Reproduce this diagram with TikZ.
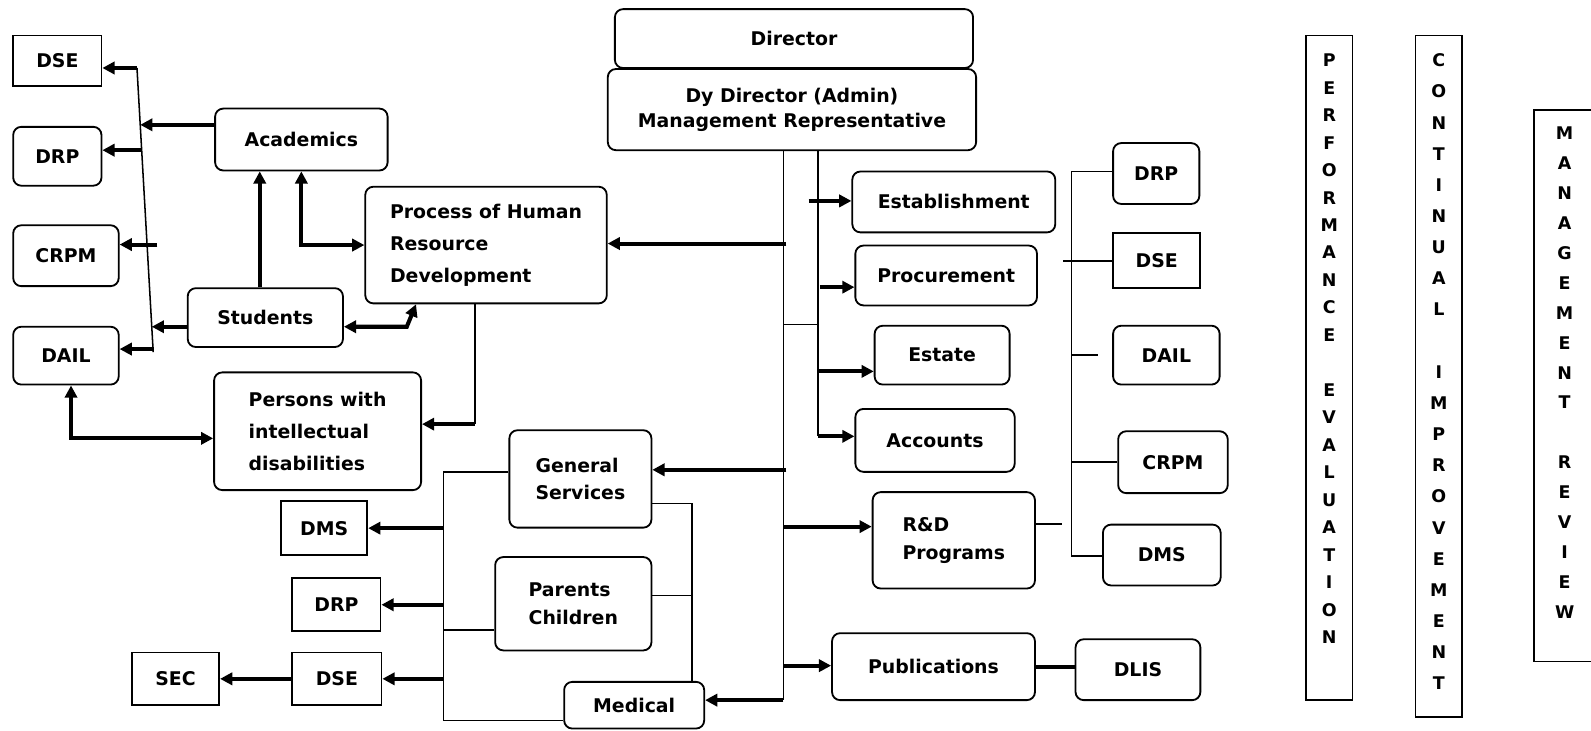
\documentclass[tikz,border=0pt]{standalone}
\usepackage{fontspec}
\setmainfont{DejaVu Sans}
\usetikzlibrary{arrows.meta}
% stacked capitals for the tall side boxes
\newcommand{\vletters}[3]{\parbox[c][#1][t]{14pt}{\centering\fontsize{8.6}{#2}\selectfont\bfseries #3}}
\tikzset{% box and line styles
    boxwh/.style 2 args={minimum width=#1*0.5pt, minimum height=#2*0.5pt},
    rbox/.style={draw, rounded corners=4pt, line width=0.9pt, inner sep=0pt, align=left,
        font=\bfseries\fontsize{9.3}{11.5}\selectfont},
    sbox/.style={rbox, sharp corners},
    vbox/.style={draw, line width=0.9pt, inner sep=0pt},
    thn/.style={line width=0.75pt},
    thk/.style={line width=2pt, >={Triangle[length=6pt,width=6pt]}},
}

\begin{document}
\begin{tikzpicture}[x=0.5pt,y=-0.5pt]
    \useasboundingbox (0,0) rectangle (1568,720);
    \clip (0,0) rectangle (1568,720);

    % Left side
    \node[sbox, boxwh={87}{50}] (dseL) at (56.5,60) {DSE};
    \node[rbox, boxwh={87}{58}] (drpL) at (56.5,154) {DRP};
    \node[rbox, boxwh={104}{60}] (crpmL) at (65,252) {CRPM};
    \node[rbox, boxwh={104}{57}] (dailL) at (65,350.5) {DAIL};
    \node[rbox, boxwh={170}{61}] (acad) at (297,137.5) {Academics};
    \node[rbox, boxwh={153}{58}] (stud) at (261.5,313) {Students};
    \node[rbox, boxwh={238}{115}] (phrd) at (479,241.5) {Process of Human\\[4.25pt]Resource\\[4.25pt]Development};
    \node[rbox, boxwh={204}{116}] (pwid) at (313,425) {Persons with\\[4.25pt]intellectual\\[4.25pt]disabilities};

    % Top
    \node[rbox, boxwh={353}{58}] (dir) at (782.5,38) {Director};
    \node[rbox, boxwh={363}{80}, align=center] (dydir) at (780.5,108) {Dy Director (Admin)\\[1pt]Management Representative};

    % Middle column
    \node[rbox, boxwh={200}{60}] (estb) at (940,199) {Establishment};
    \node[rbox, boxwh={179}{59}] (proc) at (932.5,271.5) {Procurement};
    \node[rbox, boxwh={133}{58}] (estate) at (928.5,350) {Estate};
    \node[rbox, boxwh={157}{62}] (acct) at (921.5,434) {Accounts};
    \node[rbox, boxwh={160}{95}] (rnd) at (940,532.5) {R\&D\\[2.5pt]Programs};
    \node[rbox, boxwh={200}{66}] (pub) at (920,657) {Publications};
    \node[rbox, boxwh={123}{60}] (dlis) at (1121.5,660) {DLIS};

    % Bottom left
    \node[rbox, boxwh={140}{96}] (gs) at (572,472) {General\\[2pt]Services};
    \node[rbox, boxwh={154}{92}] (pc) at (565,595) {Parents\\[2pt]Children};
    \node[rbox, boxwh={138}{46}] (med) at (625,695) {Medical};
    \node[sbox, boxwh={85}{53}] (dmsL) at (319.5,520.5) {DMS};
    \node[sbox, boxwh={87}{52}] (drpB) at (331.5,596) {DRP};
    \node[sbox, boxwh={88}{52}] (dseB) at (332,669) {DSE};
    \node[sbox, boxwh={86}{52}] (sec) at (173,669) {SEC};

    % Right column
    \node[rbox, boxwh={85}{60}] (drpR) at (1139.5,171) {DRP};
    \node[sbox, boxwh={86}{54}] (dseR) at (1140,257) {DSE};
    \node[rbox, boxwh={105}{58}] (dailR) at (1149.5,350) {DAIL};
    \node[rbox, boxwh={108}{61}] (crpmR) at (1156,455.5) {CRPM};
    \node[rbox, boxwh={116}{60}] (dmsR) at (1145,547) {DMS};

    % Tall boxes
    \node[vbox, boxwh={46}{655}] (pe) at (1310,362.5)
        {\vletters{309.5pt}{13.55pt}{P\\E\\R\\F\\O\\R\\M\\A\\N\\C\\E\\[13.55pt]E\\V\\A\\L\\U\\A\\T\\I\\O\\N}};
    \node[vbox, boxwh={46}{672}] (ci) at (1418,371)
        {\vletters{318pt}{15.35pt}{C\\O\\N\\T\\I\\N\\U\\A\\L\\[15.35pt]I\\M\\P\\R\\O\\V\\E\\M\\E\\N\\T}};
    \node[vbox, boxwh={60}{544}] (mr) at (1542,380)
        {\vletters{255pt}{14.75pt}{M\\A\\N\\A\\G\\E\\M\\E\\N\\T\\[14.75pt]R\\E\\V\\I\\E\\W}};

    % Left bus
    \coordinate (lbt) at (135,67);
    \coordinate (lbb) at (151,347);
    \coordinate (lb1) at (138.2,123);
    \coordinate (lb2) at (139.6,148);
    \coordinate (lb3) at (155,241);
    \coordinate (lb4) at (152,344);
    \coordinate (lb5) at (149.6,322);
    \draw[thn] (lbt) -- (lbb);
    \draw[thk,->] (lbt) -- (lbt -| dseL.east);
    \draw[thk,->] (lb2) -- (lb2 -| drpL.east);
    \draw[thk,->] (lb3) -- (lb3 -| crpmL.east);
    \draw[thk,->] (lb4) -- (lb4 -| dailL.east);
    \draw[thk,->] (acad.west |- lb1) -- (lb1);
    \draw[thk,->] (stud.west |- lb5) -- (lb5);

    \draw[thk,->] ([xshift=-2.75pt]stud.north) -- ([xshift=-2.75pt]stud.north |- acad.south);
    \draw[thk,<->] (acad.south) |- (phrd.west);
    \draw[thk,<->] ([yshift=-4.5pt]stud.east) -- ++(62,0) -- ([xshift=-34.5pt]phrd.south);
    \coordinate (pw1) at (468,418);
    \draw[thn] (phrd.south -| pw1) -- (pw1);
    \draw[thk,->] (pw1) -- (pw1 -| pwid.east);
    \draw[thk,<->] ([xshift=2.5pt]dailL.south) |- ([yshift=-3.5pt]pwid.west);

    % Main bus
    \coordinate (mb1) at (772,690);
    \coordinate (mb2) at (806,430);
    \coordinate (mx) at (806,320);
    \draw[thn] (dydir.south -| mb1) -- (mb1);
    \draw[thn] (dydir.south -| mb2) -- (mb2);
    \draw[thn] (mx -| mb1) -- (mx);
    \coordinate (e1) at (797,198);
    \coordinate (e2) at (808,283);
    \coordinate (e3) at (806,366);
    \coordinate (e4) at (772,519);
    \coordinate (e5) at (772,656);
    \coordinate (w1) at (775,240);
    \coordinate (w2) at (775,463);
    \draw[thk,->] (e1) -- (e1 -| estb.west);
    \draw[thk,->] (e2) -- (e2 -| proc.west);
    \draw[thk,->] (e3) -- (e3 -| estate.west);
    \draw[thk,->] (mb2) -- (mb2 -| acct.west);
    \draw[thk,->] (e4) -- (e4 -| rnd.west);
    \draw[thk,->] (e5) -- (e5 -| pub.west);
    \draw[thk,->] (w1) -- (w1 -| phrd.east);
    \draw[thk,->] (w2) -- (w2 -| gs.east);
    \draw[thk,->] (mb1) -- (mb1 -| med.east);
    \draw[thk] (pub.east) -- (pub.east -| dlis.west);

    % Services bus
    \coordinate (gb) at (437,710);
    \coordinate (gr) at (682,672);
    \draw[thn] ([yshift=3.5pt]gs.west) -| (gb) -- (gb -| med.west);
    \draw[thn] ([yshift=-13pt]pc.west) -- ([yshift=-13pt]pc.west -| gb);
    \draw[thn] ([yshift=-12pt]gs.east) -| (gr);
    \draw[thn] ([yshift=4pt]pc.east) -- ([yshift=4pt]pc.east -| gr);
    \draw[thk,->] (gb |- dmsL.east) -- (dmsL.east);
    \draw[thk,->] (gb |- drpB.east) -- (drpB.east);
    \draw[thk,->] (gb |- dseB.east) -- (dseB.east);
    \draw[thk,->] (dseB.west) -- (sec.east);

    % Right bus
    \coordinate (vt) at (1056,169);
    \coordinate (vb) at (1056,548);
    \coordinate (vs) at (1048,257);
    \coordinate (vd) at (1056,350);
    \coordinate (vc) at (1056,455.5);
    \draw[thn] (vt) -- (vb) -- (vb -| dmsR.west);
    \draw[thn] (vt) -- (vt -| drpR.west);
    \draw[thn] (vs) -- (dseR.west);
    \draw[thn] (vd) -- ([xshift=-7pt]dailR.west);
    \draw[thn] (vc) -- (crpmR.west);
    \draw[thn] ([yshift=8pt]rnd.east) -- ++(26,0);

\end{tikzpicture}
\end{document}
